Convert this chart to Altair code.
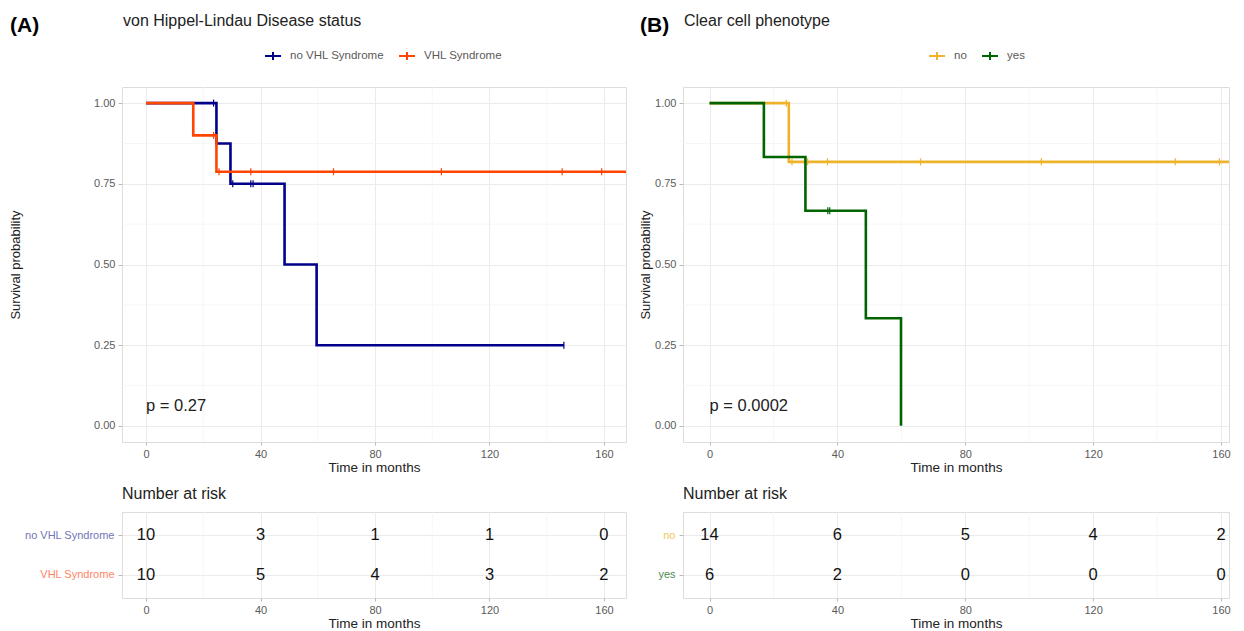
import altair as alt
import pandas as pd

FONT = "Liberation Sans"

# ---------------- data ----------------
A_groups = ["no VHL Syndrome", "VHL Syndrome"]
A_colors = ["#00008B", "#FF4500"]
A_label_colors = ["#7474B8", "#FF8466"]

A_noVHL_time = [0, 24.6, 29.5, 48.4, 59.6, 146.0]
A_noVHL_surv = [1.0, 0.875, 0.75, 0.5, 0.25, 0.25]
A_noVHL_cens_time = [23.6, 30.3, 36.6, 37.4, 146.0]
A_noVHL_cens_surv = [1.0, 0.75, 0.75, 0.75, 0.25]

A_VHL_time = [0, 16.5, 24.6, 170.0]
A_VHL_surv = [1.0, 0.9, 0.7875, 0.7875]
A_VHL_cens_time = [23.6, 25.5, 36.6, 65.5, 103.2, 145.4, 159.2]
A_VHL_cens_surv = [0.9, 0.7875, 0.7875, 0.7875, 0.7875, 0.7875, 0.7875]

A_risk_times = [0, 40, 80, 120, 160]
A_risk_noVHL = [10, 3, 1, 1, 0]
A_risk_VHL = [10, 5, 4, 3, 2]

B_groups = ["no", "yes"]
B_colors = ["#EEB32B", "#006400"]
B_label_colors = ["#F0C85A", "#4C8C4C"]

B_no_time = [0, 24.8, 170.0]
B_no_surv = [1.0, 0.818, 0.818]
B_no_cens_time = [24.0, 25.8, 30.7, 36.9, 66.0, 103.8, 145.7, 159.5]
B_no_cens_surv = [1.0, 0.818, 0.818, 0.818, 0.818, 0.818, 0.818, 0.818]

B_yes_time = [0, 17.0, 30.0, 48.9, 59.9]
B_yes_surv = [1.0, 0.8333, 0.6667, 0.3333, 0.0]
B_yes_cens_time = [37.0, 37.6]
B_yes_cens_surv = [0.6667, 0.6667]

B_risk_times = [0, 40, 80, 120, 160]
B_risk_no = [14, 6, 5, 4, 2]
B_risk_yes = [6, 2, 0, 0, 0]

X_TICKS = [0, 40, 80, 120, 160]
X_MINOR = [20, 60, 100, 140]
Y_TICKS = [0, 0.25, 0.5, 0.75, 1.0]
Y_MINOR = [0.125, 0.375, 0.625, 0.875]

GRID = "#EBEBEB"
MINOR = "#F4F4F4"
TICK = "#B8B8B8"
LAB = "#5A5A5A"
DARK = "#222222"


def steps(groups, times, survs):
    rows = []
    for g, ts, ss in zip(groups, times, survs):
        for t, s in zip(ts, ss):
            rows.append({"group": g, "time": t, "surv": s})
    return pd.DataFrame(rows)


def risk(groups, times, counts):
    rows = []
    for g, cs in zip(groups, counts):
        for t, c in zip(times, cs):
            rows.append({"group": g, "time": t, "n": str(c)})
    return pd.DataFrame(rows)


def x_axis():
    return alt.Axis(values=X_TICKS, title="Time in months", grid=True, gridColor=GRID,
                    domain=False, tickColor=TICK, tickSize=3, labelColor=LAB,
                    labelFontSize=11, labelPadding=3, labelFont=FONT,
                    titleFont=FONT, titleFontSize=13.5, titleFontWeight="normal",
                    titleColor=DARK, titleBaseline="middle", titleY=25)


def surv_panel(step_df, cens_df, groups, colors, xdom, width, title, tag, tagx,
               pval, legend_x, ytitle_x):
    xsc = alt.Scale(domain=xdom, nice=False, zero=False)
    ysc = alt.Scale(domain=[-0.05, 1.05], nice=False, zero=False)
    xax = x_axis()
    yax = alt.Axis(values=Y_TICKS, format=".2f", title="Survival probability",
                   grid=True, gridColor=GRID, domain=False, tickColor=TICK,
                   tickSize=4, labelColor=LAB, labelFontSize=11, labelPadding=3,
                   labelFont=FONT, titleFont=FONT, titleFontSize=13,
                   titleFontWeight="normal", titleColor=DARK,
                   titleBaseline="middle", titleX=ytitle_x)
    leg = alt.Legend(orient="none", legendX=legend_x, legendY=-40,
                     direction="horizontal", title=None,
                     symbolType="M-1,0L1,0M0,-0.5L0,0.5", symbolSize=256,
                     symbolStrokeWidth=2, labelFont=FONT, labelFontSize=11.5,
                     labelColor=LAB, labelOffset=8, columnPadding=11)
    col = alt.Color("group:N", scale=alt.Scale(domain=groups, range=colors), legend=leg)

    def X(f):
        return alt.X(f, scale=xsc, axis=xax)

    def Y(f):
        return alt.Y(f, scale=ysc, axis=yax)

    mx = alt.Chart(pd.DataFrame({"time": X_MINOR})).mark_rule(
        color=MINOR, strokeWidth=0.8).encode(x=X("time:Q"))
    my = alt.Chart(pd.DataFrame({"surv": Y_MINOR})).mark_rule(
        color=MINOR, strokeWidth=0.8).encode(y=Y("surv:Q"))
    lines = alt.Chart(step_df).mark_line(
        interpolate="step-after", strokeWidth=2.6, clip=True).encode(
        x=X("time:Q"), y=Y("surv:Q"), color=col, detail="group:N")
    cens = alt.Chart(cens_df).mark_point(
        shape="M0,-1L0,1", size=49, strokeWidth=1.2, filled=False, opacity=1).encode(
        x=X("time:Q"), y=Y("surv:Q"), color=col)
    ptxt = alt.Chart(pd.DataFrame({"time": [0], "surv": [0.062], "t": [pval]})).mark_text(
        align="left", baseline="middle", font=FONT, fontSize=16.5, color=DARK).encode(
        x=X("time:Q"), y=Y("surv:Q"), text="t:N")
    ttl = alt.Chart(pd.DataFrame({"t": [title]})).mark_text(
        align="left", baseline="middle", font=FONT, fontSize=16, color=DARK).encode(
        x=alt.value(1), y=alt.value(-66), text="t:N")
    tg = alt.Chart(pd.DataFrame({"t": [tag]})).mark_text(
        align="left", baseline="middle", font=FONT, fontSize=21, fontWeight="bold",
        color="#000000").encode(x=alt.value(tagx), y=alt.value(-61), text="t:N")
    return alt.layer(mx, my, lines, cens, ptxt, ttl, tg).properties(width=width, height=355)


def risk_panel(df, groups, label_colors, xdom, width):
    xsc = alt.Scale(domain=xdom, nice=False, zero=False)
    xax = x_axis()
    lab_col = {"condition": {"test": f"datum.value === '{groups[0]}'",
                             "value": label_colors[0]},
               "value": label_colors[1]}
    yax = alt.Axis(title=None, grid=True, gridColor=GRID, domain=False,
                   tickColor=TICK, tickSize=4, labelFont=FONT, labelFontSize=11,
                   labelPadding=4, labelColor=lab_col)
    ysc = alt.Scale(type="point", domain=groups, padding=0.6)

    def X(f):
        return alt.X(f, scale=xsc, axis=xax)

    mx = alt.Chart(pd.DataFrame({"time": X_MINOR})).mark_rule(
        color=MINOR, strokeWidth=0.8).encode(x=X("time:Q"))
    txt = alt.Chart(df).mark_text(font=FONT, fontSize=16.5, color="#111111",
                                  baseline="middle").encode(
        x=X("time:Q"), y=alt.Y("group:N", scale=ysc, axis=yax, sort=groups),
        text="n:N")
    ttl = alt.Chart(pd.DataFrame({"t": ["Number at risk"]})).mark_text(
        align="left", baseline="middle", font=FONT, fontSize=16, color=DARK).encode(
        x=alt.value(0), y=alt.value(-18), text="t:N")
    return alt.layer(mx, txt, ttl).properties(width=width, height=86)


A_steps = steps(A_groups, [A_noVHL_time, A_VHL_time], [A_noVHL_surv, A_VHL_surv])
A_cens = steps(A_groups, [A_noVHL_cens_time, A_VHL_cens_time],
               [A_noVHL_cens_surv, A_VHL_cens_surv])
B_steps = steps(B_groups, [B_no_time, B_yes_time], [B_no_surv, B_yes_surv])
B_cens = steps(B_groups, [B_no_cens_time, B_yes_cens_time],
               [B_no_cens_surv, B_yes_cens_surv])
A_risk = risk(A_groups, A_risk_times, [A_risk_noVHL, A_risk_VHL])
B_risk = risk(B_groups, B_risk_times, [B_risk_no, B_risk_yes])

A_dom = [-8.4, 167.7]
B_dom = [-8.3, 162.5]

survA = surv_panel(A_steps, A_cens, A_groups, A_colors, A_dom, 504,
                   "von Hippel-Lindau Disease status", "(A)", -112, "p = 0.27", 142, -107)
survB = surv_panel(B_steps, B_cens, B_groups, B_colors, B_dom, 546,
                   "Clear cell phenotype", "(B)", -43, "p = 0.0002", 245, -38)
riskA = risk_panel(A_risk, A_groups, A_label_colors, A_dom, 504)
riskB = risk_panel(B_risk, B_groups, B_label_colors, B_dom, 546)

chart = alt.concat(survA, survB, riskA, riskB, columns=2,
                   spacing={"row": 70, "column": 57}, bounds="flush").resolve_scale(
    color="independent", x="independent", y="independent").properties(
    padding={"left": 0, "top": 4, "right": 0, "bottom": 0}
).configure_view(stroke="#D0D0D0", strokeWidth=1).configure(background="white")

chart.save("out.html", embed_options={"renderer": "svg", "actions": False})
